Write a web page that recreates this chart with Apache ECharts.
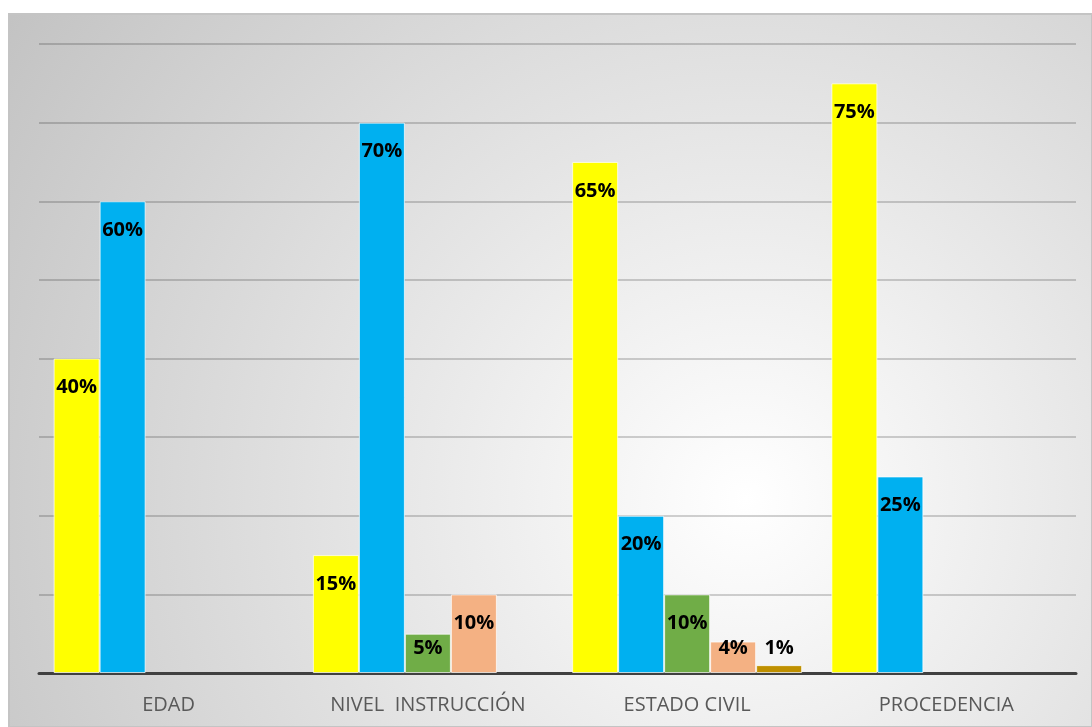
<!DOCTYPE html>
<html>
<head>
<meta charset="utf-8">
<script src="https://cdn.jsdelivr.net/npm/echarts@6/dist/echarts.min.js"></script>
<style>
  html, body { margin: 0; padding: 0; background: #ffffff; }
  #chart { width: 1092px; height: 727px; }
</style>
</head>
<body>
<div id="chart"></div>
<script>
// Categories along the x axis
const categories = ['EDAD', 'NIVEL  INSTRUCCIÓN', 'ESTADO CIVIL', 'PROCEDENCIA'];

// Percentages per group (null = no bar in that category)
const serie1 = [40, 15, 65, 75];
const serie2 = [60, 70, 20, 25];
const serie3 = [null, 5, 10, null];
const serie4 = [null, 10, 4, null];
const serie5 = [null, null, 1, null];

const seriesValues = [serie1, serie2, serie3, serie4, serie5];
const seriesColors = ['#FFFF00', '#00B0F0', '#70AD47', '#F4B183', '#BF9000'];

// Value axis: 0–80 in steps of 10 (labels hidden)
const yMin = 0, yMax = 80, yStep = 10;

const chart = echarts.init(document.getElementById('chart'), null, { renderer: 'canvas' });

const FONT = '"Open Sans", "Noto Sans", sans-serif';

const labelFont = {
  fontFamily: FONT,
  fontWeight: 'bold',
  fontSize: 20,
  color: '#000000'
};

// Short bars can't hold their label inside; keep those labels resting near the base
function toItems(values) {
  return values.map(v => {
    if (v === null) return null;
    if (v <= 5) {
      return { value: v, label: { position: 'insideBottom', distance: 15 } };
    }
    return v;
  });
}

const series = seriesValues.map((vals, i) => ({
  type: 'bar',
  data: toItems(vals),
  barWidth: 46,
  barGap: '0%',
  itemStyle: {
    color: seriesColors[i],
    borderColor: 'rgba(255,255,255,0.7)',
    borderWidth: 1
  },
  label: Object.assign({
    show: true,
    position: 'insideTop',
    distance: 19,
    formatter: p => p.value + '%'
  }, labelFont),
  z: 3
}));

chart.setOption({
  backgroundColor: '#ffffff',
  animation: false,
  graphic: [{
    type: 'rect',
    z: -10,
    shape: { x: 9, y: 14, width: 1083, height: 713 },
    style: {
      fill: new echarts.graphic.RadialGradient(0.68, 0.68, 1.25, [
        { offset: 0, color: '#ffffff' },
        { offset: 1, color: '#c2c2c2' }
      ]),
      stroke: '#c4c4c4',
      lineWidth: 2
    }
  }],
  grid: { left: 39, right: 16, top: 44, bottom: 54, containLabel: false },
  xAxis: {
    type: 'category',
    data: categories,
    axisLine: { show: true, lineStyle: { color: '#404040', width: 3 } },
    axisTick: { show: false },
    axisLabel: {
      interval: 0,
      hideOverlap: false,
      margin: 22,
      fontFamily: FONT,
      fontSize: 20,
      color: '#595959'
    },
    splitLine: { show: false }
  },
  yAxis: {
    type: 'value',
    min: yMin,
    max: yMax,
    interval: yStep,
    axisLine: { show: false },
    axisTick: { show: false },
    axisLabel: { show: false },
    splitLine: { show: true, lineStyle: { color: 'rgba(0,0,0,0.24)', width: 1.5 } }
  },
  series: series
});
</script>
</body>
</html>
